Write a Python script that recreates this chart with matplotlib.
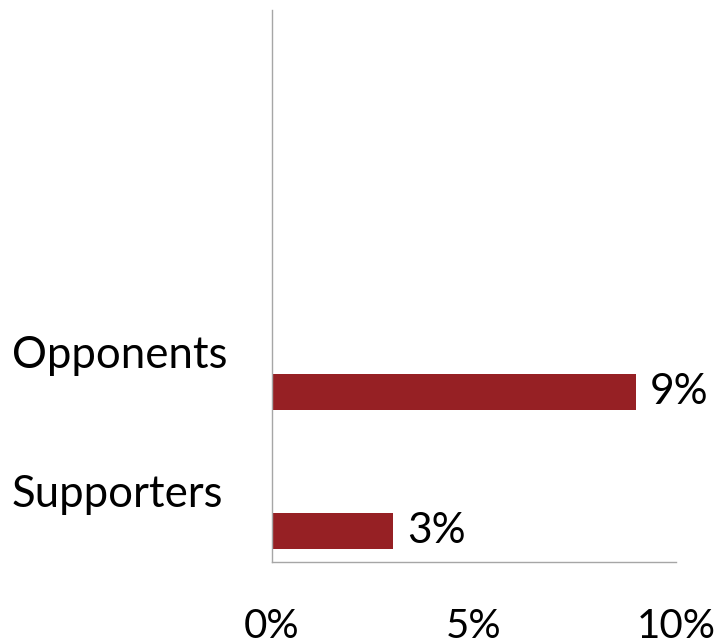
import matplotlib.pyplot as plt
import matplotlib.transforms as mtransforms

categories = ["Supporters", "Opponents"]
values = [3, 9]
value_labels = ["3%", "9%"]
xticks = [0, 5, 10]
xtick_labels = ["0%", "5%", "10%"]

BAR_COLOR = "#962024"
AXIS_COLOR = "#a6a6a6"
FONT = "Lato"

fig = plt.figure(figsize=(7.21, 6.44), dpi=100)
ax = fig.add_axes([272 / 721, 82 / 644, 404 / 721, 552 / 644])

pos = list(range(len(categories)))
ax.barh(pos, values, height=0.26, color=BAR_COLOR)

ax.set_xlim(0, 10)
ax.set_ylim(-0.223, 3.748)
ax.set_xticks(xticks)
ax.set_xticklabels(xtick_labels, fontsize=29, family=FONT)
ax.tick_params(axis="x", length=0, pad=33)
ax.set_yticks([])

for side in ["top", "right"]:
    ax.spines[side].set_visible(False)
for side in ["left", "bottom"]:
    ax.spines[side].set_color(AXIS_COLOR)
    ax.spines[side].set_linewidth(1.0)

# value labels right of bars
for p, v, lab in zip(pos, values, value_labels):
    ax.annotate(lab, (v, p), xytext=(10, 0), textcoords="offset points",
                va="center", ha="left", fontsize=30.5, family=FONT)

# category labels sit above the bars, at the left edge of the figure
trans = mtransforms.blended_transform_factory(fig.transFigure, ax.transData)
for p, cat in zip(pos, categories):
    ax.text(12 / 721, p + 0.26, cat, transform=trans, va="center", ha="left",
            fontsize=31.5, family=FONT, clip_on=False)

fig.savefig("out.png", dpi=100)
